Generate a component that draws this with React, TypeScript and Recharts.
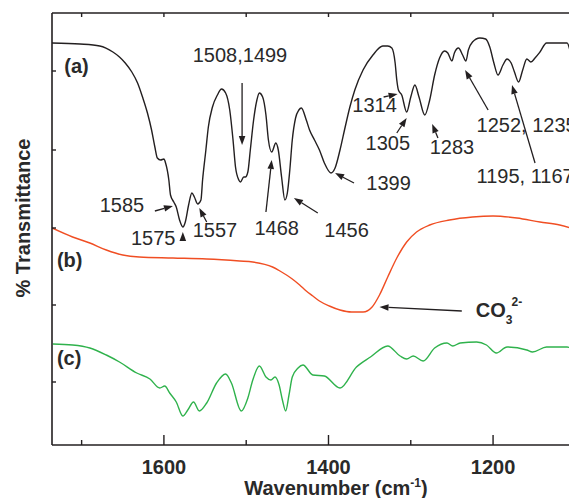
import React from 'react';
import {
  LineChart,
  Line,
  XAxis,
  YAxis,
  ReferenceLine,
  ReferenceDot,
  Label,
} from 'recharts';

// wavenumber (cm-1) and transmittance (arbitrary units, offset for stacking)
const aWavenumber = [
  1736, 1702, 1678, 1662, 1654, 1647, 1639, 1632, 1626, 1620, 1615, 1611, 1608, 1604, 1600,
  1598, 1594, 1592, 1588, 1585, 1581, 1577, 1574, 1570, 1566, 1563, 1559, 1555, 1553, 1549,
  1546, 1541, 1535, 1530, 1525, 1520, 1516, 1513, 1509, 1507, 1503, 1501, 1498, 1495, 1491,
  1487, 1484, 1480, 1476, 1473, 1469, 1464, 1461, 1457, 1453, 1450, 1447, 1444, 1440, 1436,
  1433, 1427, 1423, 1417, 1411, 1405, 1397, 1392, 1386, 1380, 1374, 1368, 1358, 1346, 1334,
  1328, 1323, 1319, 1317, 1315, 1311, 1305, 1300, 1295, 1290, 1283, 1277, 1271, 1265, 1259,
  1255, 1250, 1247, 1242, 1237, 1233, 1230, 1225, 1216, 1209, 1204, 1199, 1194, 1188, 1183,
  1178, 1174, 1169, 1164, 1159, 1154, 1149, 1143, 1135, 1123, 1110, 1106, 1103, 1098,
];
const aTransmittance = [
  402, 401, 399, 393, 388, 382, 373, 362, 348, 332, 315, 298, 287, 285, 286,
  282, 265, 250, 243, 238, 225, 218, 223, 240, 252, 248, 241, 245, 265, 295,
  318, 338, 350, 356, 352, 335, 305, 278, 265, 263, 268, 268, 273, 295, 325,
  345, 352, 348, 330, 305, 293, 302, 295, 268, 245, 252, 275, 305, 327, 335,
  337, 325, 315, 305, 295, 282, 272, 277, 295, 317, 338, 355, 375, 390, 399,
  399, 397, 382, 365, 355, 350, 333, 348, 360, 348, 330, 345, 370, 387, 394,
  392, 384, 392, 397, 390, 384, 395, 403, 407, 406, 398, 382, 370, 380, 386,
  382, 373, 363, 375, 386, 383, 387, 393, 402, 402, 402, 393, 383, 380,
];

const bWavenumber = [
  1736, 1711, 1690, 1670, 1650, 1630, 1589, 1548, 1508, 1492, 1468, 1459, 1444, 1435, 1427,
  1419, 1411, 1399, 1386, 1372, 1358, 1347, 1338, 1328, 1317, 1305, 1293, 1277, 1253, 1225,
  1200, 1171, 1143, 1119, 1098,
];
const bTransmittance = [
  217, 208, 202, 195, 190, 188, 187, 186, 184, 183, 178, 174, 166, 160, 154,
  149, 144, 139, 135, 133, 133, 138, 150, 168, 187, 203, 213, 220, 225, 228,
  229, 227, 223, 220, 215,
];

const cWavenumber = [
  1735, 1711, 1690, 1670, 1654, 1633, 1617, 1605, 1599, 1593, 1585, 1577, 1571, 1564, 1557,
  1548, 1536, 1525, 1518, 1506, 1498, 1492, 1484, 1476, 1470, 1465, 1460, 1456, 1452, 1448,
  1444, 1437, 1431, 1419, 1405, 1386, 1366, 1349, 1328, 1313, 1305, 1297, 1285, 1271, 1256,
  1249, 1240, 1220, 1208, 1196, 1183, 1159, 1152, 1135, 1110, 1098,
];
const cTransmittance = [
  101, 100, 97, 90, 83, 72, 66, 57, 59, 52, 43, 29, 35, 43, 34,
  42, 62, 71, 62, 34, 47, 65, 79, 68, 65, 68, 60, 45, 34, 50,
  68, 77, 80, 70, 69, 57, 78, 88, 99, 89, 86, 89, 84, 97, 102,
  99, 102, 103, 100, 92, 98, 95, 93, 98, 98, 92,
];

const majorTicks = [1600, 1400, 1200];
const allTicks = [1700, 1600, 1500, 1400, 1300, 1200, 1100];
const yTicks = [63, 140, 217, 295, 374];

const panelLabels = [
  { text: '(a)', wn: 1721, t: 379 },
  { text: '(b)', wn: 1730, t: 185 },
  { text: '(c)', wn: 1730, t: 87 },
];

const peakLabels = [
  { text: '1585', wn: 1678, t: 240 },
  { text: '1575', wn: 1640, t: 207 },
  { text: '1557', wn: 1565, t: 215 },
  { text: '1508,1499', wn: 1565, t: 390 },
  { text: '1468', wn: 1490, t: 217 },
  { text: '1456', wn: 1405, t: 215 },
  { text: '1399', wn: 1354, t: 262 },
  { text: '1314', wn: 1371, t: 340 },
  { text: '1305', wn: 1355, t: 302 },
  { text: '1283', wn: 1277, t: 298 },
  { text: '1252, 1235', wn: 1220, t: 320 },
  { text: '1195, 1167', wn: 1220, t: 269 },
];

const arrows = [
  { from: [1611, 234], to: [1589, 239] },
  { from: [1577, 204], to: [1577, 213] },
  { from: [1548, 223], to: [1557, 237] },
  { from: [1505, 362], to: [1505, 300] },
  { from: [1476, 233], to: [1469, 285] },
  { from: [1413, 232], to: [1442, 247] },
  { from: [1369, 262], to: [1392, 272] },
  { from: [1333, 348], to: [1316, 351] },
  { from: [1317, 312], to: [1305, 327] },
  { from: [1267, 307], to: [1274, 321] },
  { from: [1206, 335], to: [1234, 375] },
  { from: [1149, 282], to: [1177, 360] },
  { from: [1238, 134], to: [1338, 138] },
];

const carbonateLabel = { wn: 1221, t: 135 };

const seriesA = aWavenumber.map((wn, i) => ({ wn, t: aTransmittance[i] }));
const seriesB = bWavenumber.map((wn, i) => ({ wn, t: bTransmittance[i] }));
const seriesC = cWavenumber.map((wn, i) => ({ wn, t: cTransmittance[i] }));

const FONT = '"Liberation Sans", Arial, Helvetica, sans-serif';
const INK = '#231f20';
const TEXT = '#2a2a2a';
const FS = 20;

const Arrow = (p: any) => {
  const { x1, y1, x2, y2 } = p;
  const dx = x2 - x1;
  const dy = y2 - y1;
  const len = Math.hypot(dx, dy) || 1;
  const ux = dx / len;
  const uy = dy / len;
  const head = Math.min(9, len);
  const bx = x2 - ux * head;
  const by = y2 - uy * head;
  const w = 3.3;
  const pts = `${x2},${y2} ${bx - uy * w},${by + ux * w} ${bx + uy * w},${by - ux * w}`;
  return (
    <g>
      {len > head + 0.5 && (
        <line x1={x1} y1={y1} x2={bx} y2={by} stroke={INK} strokeWidth={1.3} />
      )}
      <polygon points={pts} fill={INK} />
    </g>
  );
};

const BottomTick = (p: any) => {
  const { x, y, payload } = p;
  const major = majorTicks.includes(payload.value);
  return (
    <g>
      <line x1={x} y1={y} x2={x} y2={y - (major ? 10 : 5)} stroke={INK} strokeWidth={1.4} />
      {major && (
        <text
          x={x}
          y={y + 22}
          dy="0.35em"
          textAnchor="middle"
          fontFamily={FONT}
          fontWeight="bold"
          fontSize={FS}
          fill={TEXT}
        >
          {payload.value}
        </text>
      )}
    </g>
  );
};

const TopTick = (p: any) => {
  const { x, y } = p;
  return <line x1={x} y1={y} x2={x} y2={y + 4} stroke={INK} strokeWidth={1.4} />;
};

const LeftTick = (p: any) => {
  const { x, y } = p;
  return <line x1={x} y1={y} x2={x + 4} y2={y} stroke={INK} strokeWidth={1.4} />;
};

const XTitle = (p: any) => {
  const { viewBox } = p;
  return (
    <text
      x={viewBox.x + 284}
      y={viewBox.y + 50}
      textAnchor="middle"
      fontFamily={FONT}
      fontWeight="bold"
      fontSize={FS}
      fill={TEXT}
    >
      Wavenumber (cm
      <tspan fontSize={12} dy={-8}>-1</tspan>
      <tspan dy={8}>)</tspan>
    </text>
  );
};

const YTitle = (p: any) => {
  const { viewBox } = p;
  const cx = viewBox.x + viewBox.width - 29;
  const cy = viewBox.y + 205;
  return (
    <text
      x={cx}
      y={cy}
      dy="0.35em"
      transform={`rotate(-90, ${cx}, ${cy})`}
      textAnchor="middle"
      fontFamily={FONT}
      fontWeight="bold"
      fontSize={FS}
      fill={TEXT}
    >
      % Transmittance
    </text>
  );
};

const textShape = (text: string, bold: boolean) => (p: any) => (
  <text
    x={p.cx}
    y={p.cy}
    dy="0.35em"
    fontFamily={FONT}
    fontWeight={bold ? 'bold' : 'normal'}
    fontSize={FS}
    fill={TEXT}
  >
    {text}
  </text>
);

const carbonateShape = (p: any) => (
  <text x={p.cx} y={p.cy} dy="0.35em" fontFamily={FONT} fontWeight="bold" fontSize={FS} fill={TEXT}>
    CO
    <tspan fontSize={12} dy={7}>3</tspan>
    <tspan fontSize={12} dx={-1} dy={-18}>2-</tspan>
  </text>
);

export default function App() {
  return (
    <LineChart
      width={569}
      height={490}
      margin={{ top: 4, right: 0, bottom: 0, left: 43 }}
      style={{ background: '#fff' }}
    >
      <XAxis
        dataKey="wn"
        type="number"
        domain={[1098, 1736]}
        reversed
        allowDataOverflow
        ticks={allTicks}
        interval={0}
        height={53}
        tickSize={0}
        tickMargin={0}
        tickLine={false}
        tick={<BottomTick />}
        axisLine={{ stroke: INK, strokeWidth: 1.6 }}
      >
        <Label content={<XTitle />} />
      </XAxis>
      <XAxis
        xAxisId="top"
        orientation="top"
        dataKey="wn"
        type="number"
        domain={[1098, 1736]}
        reversed
        allowDataOverflow
        ticks={allTicks}
        interval={0}
        height={1}
        tickSize={0}
        tickMargin={0}
        tickLine={false}
        tick={<TopTick />}
        axisLine={{ stroke: INK, strokeWidth: 1.6 }}
      />
      <YAxis
        type="number"
        domain={[0, 432]}
        ticks={yTicks}
        interval={0}
        width={1}
        tickSize={0}
        tickMargin={0}
        tickLine={false}
        tick={<LeftTick />}
        axisLine={{ stroke: INK, strokeWidth: 1.6 }}
      >
        <Label content={<YTitle />} />
      </YAxis>

      <Line
        data={seriesA}
        dataKey="t"
        type="monotone"
        stroke={INK}
        strokeWidth={1.4}
        dot={false}
        isAnimationActive={false}
      />
      <Line
        data={seriesB}
        dataKey="t"
        type="monotone"
        stroke="#f04e23"
        strokeWidth={1.4}
        dot={false}
        isAnimationActive={false}
      />
      <Line
        data={seriesC}
        dataKey="t"
        type="monotone"
        stroke="#2fb24c"
        strokeWidth={1.4}
        dot={false}
        isAnimationActive={false}
      />

      {arrows.map((a, i) => (
        <ReferenceLine
          key={`ar${i}`}
          segment={[
            { x: a.from[0], y: a.from[1] },
            { x: a.to[0], y: a.to[1] },
          ]}
          ifOverflow="visible"
          shape={Arrow}
        />
      ))}
      {panelLabels.map((l) => (
        <ReferenceDot
          key={l.text}
          x={l.wn}
          y={l.t}
          r={0}
          ifOverflow="visible"
          shape={textShape(l.text, true)}
        />
      ))}
      {peakLabels.map((l) => (
        <ReferenceDot
          key={l.text}
          x={l.wn}
          y={l.t}
          r={0}
          ifOverflow="visible"
          shape={textShape(l.text, false)}
        />
      ))}
      <ReferenceDot
        x={carbonateLabel.wn}
        y={carbonateLabel.t}
        r={0}
        ifOverflow="visible"
        shape={carbonateShape}
      />
    </LineChart>
  );
}
